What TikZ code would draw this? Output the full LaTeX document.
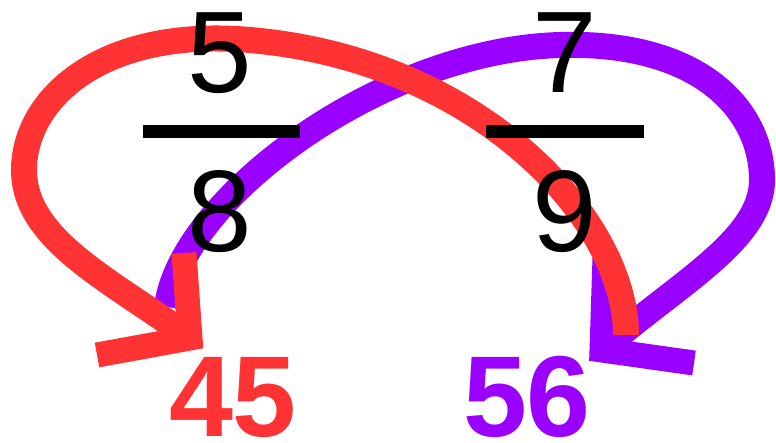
\documentclass[tikz,border=0pt]{standalone}
\usepackage{fontspec}
\setmainfont{Liberation Sans}
\definecolor{crossred}{RGB}{255,51,51}
\definecolor{crosspurple}{RGB}{153,0,255}
\tikzset{
  digit/.style     = {font=\fontsize{116}{116}\selectfont, inner sep=0pt, anchor=base},
  answer/.style    = {font=\fontsize{115}{115}\selectfont\bfseries, inner sep=0pt, anchor=base},
  fracbar/.style   = {line width=13pt},
  crossarc/.style  = {line width=26pt},
  crosshead/.style = {line width=25pt, miter limit=10},
}

\begin{document}
\begin{tikzpicture}[x=1pt, y=-1pt]
  \useasboundingbox (0,0) rectangle (776,442);

  % end points of the two cross arrows
  \coordinate (pstart) at (167,307);
  \coordinate (ptop)   at (560,45);
  \coordinate (pright) at (762,180);
  \coordinate (ptip)   at (602,350);
  \coordinate (pbarbA) at (605,258);
  \coordinate (pbarbB) at (694,363);
  \coordinate (rstart) at (626,335);
  \coordinate (rtop)   at (250,40);
  \coordinate (rleft)  at (24,170);
  \coordinate (rtip)   at (190,338);
  \coordinate (rbarbA) at (184,253);
  \coordinate (rbarbB) at (97,355);

  % 7 x 8
  \draw[crossarc, crosspurple] (pstart)
    .. controls (180,200) and (380,50) .. (ptop)
    .. controls (700,41) and (762,110) .. (pright)
    .. controls (762,240) and (677,284) .. (ptip);
  \draw[crosshead, crosspurple] (pbarbA) -- (ptip) -- (pbarbB);

  % 5 x 9
  \draw[crossarc, crossred] (rstart)
    .. controls (626,220) and (480,60) .. (rtop)
    .. controls (100,27) and (24,100) .. (rleft)
    .. controls (24,240) and (111,280) .. (rtip);
  \draw[crosshead, crossred] (rbarbA) -- (rtip) -- (rbarbB);

  % the fractions
  \node[digit] (num5) at (220,92)  {5};
  \node[digit] (den8) at (220,251) {8};
  \node[digit] (num7) at (565,92)  {7};
  \node[digit] (den9) at (565,251) {9};
  \draw[fracbar] (143,131.5) -- (300,131.5);
  \draw[fracbar] (486,131.5) -- (644,131.5);

  % products
  \node[answer, text=crossred]    (prod45) at (233,436) {45};
  \node[answer, text=crosspurple] (prod56) at (527,436) {56};
\end{tikzpicture}
\end{document}
